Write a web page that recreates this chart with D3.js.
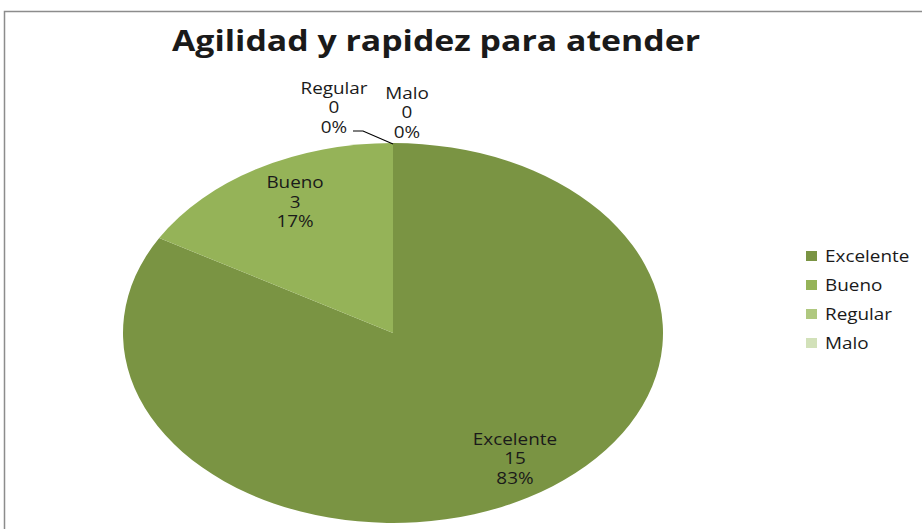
<!DOCTYPE html>
<html>
<head>
<meta charset="utf-8">
<script src="https://cdn.jsdelivr.net/npm/d3@7"></script>
<style>
  body { margin: 0; background: #fff; }
  svg text { font-family: "Open Sans", "DejaVu Sans", sans-serif; fill: #1a1a1a; }
</style>
</head>
<body>
<svg id="chart" width="922" height="529"></svg>
<script>
// chart data
const categories = ['Excelente', 'Bueno', 'Regular', 'Malo'];
const values = [15, 3, 0, 0];
const colors = ['#7a9443', '#95b358', '#afc87f', '#d2e1b9'];
const title = 'Agilidad y rapidez para atender';

const svg = d3.select('#chart');
const W = 922;
const H = 529;
const STRETCH = 1.22; // the original text is horizontally stretched

// outer frame
svg.append('rect')
    .attr('x', 4.5)
    .attr('y', 11.5)
    .attr('width', W + 20)
    .attr('height', H + 20)
    .attr('fill', '#fff')
    .attr('stroke', '#8c8c8c')
    .attr('stroke-width', 1.5);

svg.append('text')
    .attr('x', 436)
    .attr('y', 51)
    .attr('text-anchor', 'middle')
    .attr('font-size', 28)
    .attr('font-weight', 'bold')
    .attr('textLength', 528)
    .attr('lengthAdjust', 'spacingAndGlyphs')
    .text(title);

// pie is drawn on a unit circle and stretched to an ellipse
const cx = 393;
const cy = 333;
const rx = 270;
const ry = 190;

const total = d3.sum(values);
const pie = d3.pie().sort(null).value((d) => d.value);
const arcs = pie(categories.map((c, i) => ({ name: c, value: values[i], color: colors[i] })));
const arc = d3.arc().innerRadius(0).outerRadius(1);

const g = svg.append('g').attr('transform', `translate(${cx},${cy})`);

g.append('g')
    .attr('transform', `scale(${rx},${ry})`)
    .selectAll('path')
    .data(arcs)
    .join('path')
    .attr('d', arc)
    .attr('fill', (d) => d.data.color);

function ellipsePoint(angle, k)
{
    return [Math.sin(angle) * rx * k, -Math.cos(angle) * ry * k];
}

function stretchedText(parent, x, y)
{
    return parent.append('g')
        .attr('transform', `translate(${x},${y}) scale(${STRETCH},1)`)
        .append('text')
        .attr('font-size', 15.5);
}

const fmtPct = (v) => `${Math.round((v / total) * 100)}%`;

// nudges from the slice anchor, the way the labels were placed by hand
const nudge = {
    Excelente: { k: 0.77, dx: 18, dy: -20 },
    Bueno: { k: 0.77, dx: 6, dy: -23 },
    Regular: { k: 1, dx: -59, dy: -54 },
    Malo: { k: 1, dx: 14, dy: -49 },
};

arcs.forEach((d) =>
{
    const mid = (d.startAngle + d.endAngle) / 2;
    const n = nudge[d.data.name];
    const [px, py] = ellipsePoint(mid, n.k);
    const t = stretchedText(g, px + n.dx, py + n.dy).attr('text-anchor', 'middle');
    [d.data.name, String(d.data.value), fmtPct(d.value)].forEach((s, i) =>
    {
        t.append('tspan')
            .attr('x', 0)
            .attr('y', 5 + i * 19.5)
            .text(s);
    });
});

// leader line for Regular
const pieTop = ellipsePoint(2 * Math.PI, 1);
g.append('path')
    .attr('d', d3.line()([[pieTop[0] - 40, pieTop[1] - 12], [pieTop[0] - 30, pieTop[1] - 12], [pieTop[0], pieTop[1] + 1]]))
    .attr('fill', 'none')
    .attr('stroke', '#000')
    .attr('stroke-width', 1.2);

// legend
const legend = svg.append('g').attr('transform', 'translate(806,256)');
categories.forEach((c, i) =>
{
    const row = legend.append('g').attr('transform', `translate(0,${i * 29})`);
    row.append('rect')
        .attr('x', 0)
        .attr('y', -5)
        .attr('width', 11)
        .attr('height', 10)
        .attr('fill', colors[i]);
    stretchedText(row, 19, 5.5).text(c);
});
</script>
</body>
</html>
